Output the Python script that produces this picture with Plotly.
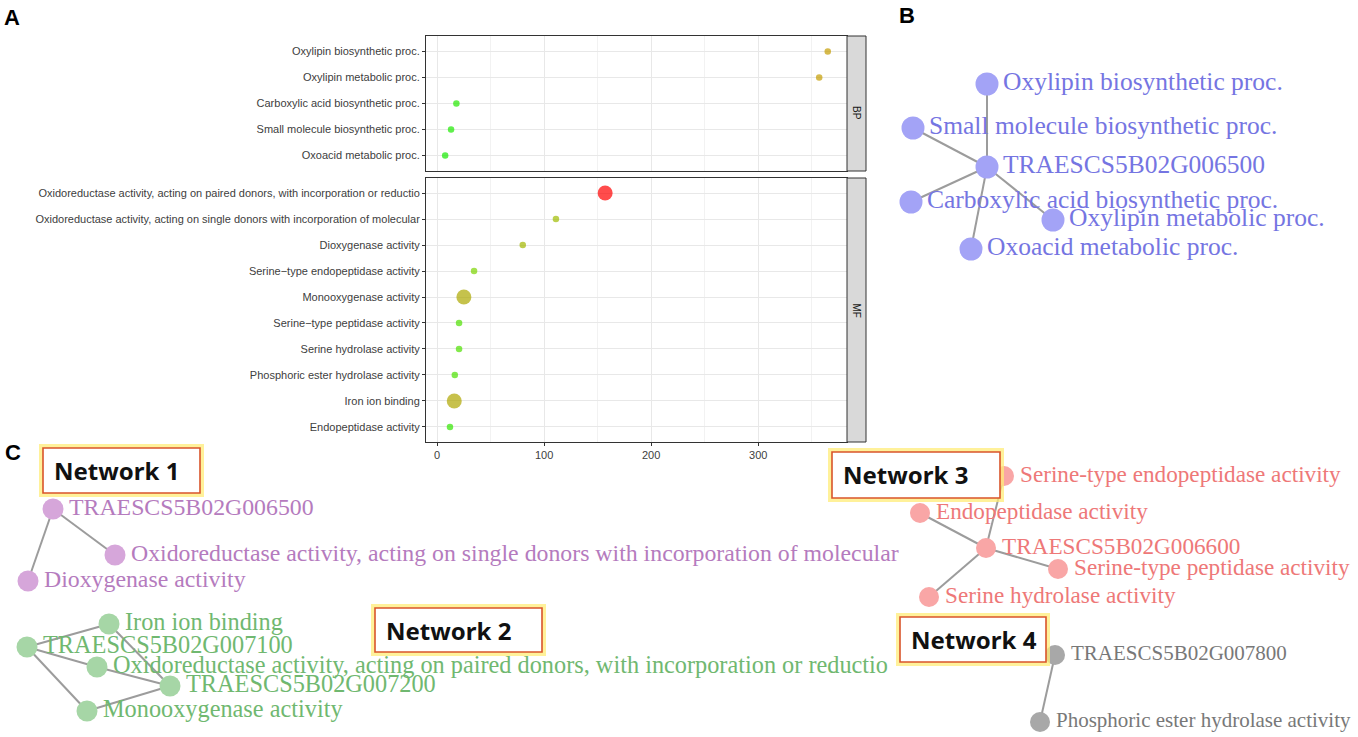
import plotly.graph_objects as go

W, H = 1358, 737

# ---------------- Panel A data ----------------
bp_terms = ["Oxylipin biosynthetic proc.", "Oxylipin metabolic proc.",
            "Carboxylic acid biosynthetic proc.", "Small molecule biosynthetic proc.",
            "Oxoacid metabolic proc."]
bp_values = [365, 357, 18, 13, 7.5]
bp_counts = [1, 1, 1, 1, 1]
bp_scores = [0.68, 0.68, 0.05, 0.04, 0.03]

mf_terms = ["Oxidoreductase activity, acting on paired donors, with incorporation or reductio",
            "Oxidoreductase activity, acting on single donors with incorporation of molecular",
            "Dioxygenase activity", "Serine\u2212type endopeptidase activity",
            "Monooxygenase activity", "Serine\u2212type peptidase activity",
            "Serine hydrolase activity", "Phosphoric ester hydrolase activity",
            "Iron ion binding", "Endopeptidase activity"]
mf_values = [157, 111, 80, 34.5, 25, 20.5, 20.5, 16.5, 16, 12]
mf_counts = [2, 1, 1, 1, 2, 1, 1, 1, 2, 1]
mf_scores = [1.0, 0.42, 0.45, 0.25, 0.55, 0.12, 0.12, 0.11, 0.56, 0.07]

x_ticks = [0, 100, 200, 300]

# ---------------- Network data ----------------
netB_labels = ["Oxylipin biosynthetic proc.", "Small molecule biosynthetic proc.",
               "TRAESCS5B02G006500", "Carboxylic acid biosynthetic proc.",
               "Oxylipin metabolic proc.", "Oxoacid metabolic proc."]
netB_x = [987, 913, 987, 911, 1053, 971]
netB_y = [84, 128, 167, 202, 220, 249]
netB_edges = [(2, 0), (2, 1), (2, 3), (2, 4), (2, 5)]

net1_labels = ["TRAESCS5B02G006500",
               "Oxidoreductase activity, acting on single donors with incorporation of molecular",
               "Dioxygenase activity"]
net1_x = [53, 115, 28]
net1_y = [509, 555, 581]
net1_edges = [(0, 1), (0, 2)]

net2_labels = ["Iron ion binding", "TRAESCS5B02G007100",
               "Oxidoreductase activity, acting on paired donors, with incorporation or reductio",
               "TRAESCS5B02G007200", "Monooxygenase activity"]
net2_x = [109, 27, 97, 170, 87]
net2_y = [624, 647, 667, 686, 711]
net2_edges = [(1, 0), (1, 2), (1, 4), (3, 0), (3, 2), (3, 4)]

net3_labels = ["Serine-type endopeptidase activity", "Endopeptidase activity",
               "TRAESCS5B02G006600", "Serine-type peptidase activity",
               "Serine hydrolase activity"]
net3_x = [1004, 920, 986, 1058, 929]
net3_y = [476, 513, 548, 569, 597]
net3_edges = [(2, 0), (2, 1), (2, 3), (2, 4)]

net4_labels = ["TRAESCS5B02G007800", "Phosphoric ester hydrolase activity"]
net4_x = [1055, 1040]
net4_y = [655, 722]
net4_edges = [(0, 1)]

network_titles = ["Network 1", "Network 2", "Network 3", "Network 4"]

# ---------------- styles ----------------
SIZE_MAP = {1: 6.5, 2: 15}
COLORSCALE = [[0, '#00EE00'], [0.1, '#48E200'], [0.25, '#7CD400'], [0.42, '#A0BC00'],
              [0.55, '#ADA800'], [0.68, '#C49C00'], [0.85, '#E46400'], [1, '#FF0000']]


def px(x):
    return x / W


def py(y):
    return 1 - y / H


fig = go.Figure()

# dot plot traces
fig.add_trace(go.Scatter(
    x=bp_values, y=bp_terms, mode='markers', xaxis='x', yaxis='y',
    marker=dict(size=[SIZE_MAP[c] for c in bp_counts], color=bp_scores,
                colorscale=COLORSCALE, cmin=0, cmax=1, line=dict(width=0)),
    showlegend=False, hoverinfo='skip'))
fig.add_trace(go.Scatter(
    x=mf_values, y=mf_terms, mode='markers', xaxis='x2', yaxis='y2',
    marker=dict(size=[SIZE_MAP[c] for c in mf_counts], color=mf_scores,
                colorscale=COLORSCALE, cmin=0, cmax=1, line=dict(width=0)),
    showlegend=False, hoverinfo='skip'))

# networks
networks = [
    dict(labels=netB_labels, x=netB_x, y=netB_y, edges=netB_edges,
         node='#A3A3F6', text='#7575E2', size=23, font=25.5),
    dict(labels=net1_labels, x=net1_x, y=net1_y, edges=net1_edges,
         node='#D6A6DA', text='#B57BBE', size=21, font=23.8),
    dict(labels=net2_labels, x=net2_x, y=net2_y, edges=net2_edges,
         node='#A6D6A6', text='#70B870', size=21, font=24.3),
    dict(labels=net3_labels, x=net3_x, y=net3_y, edges=net3_edges,
         node='#F9A6A6', text='#EE7878', size=20, font=23.2),
    dict(labels=net4_labels, x=net4_x, y=net4_y, edges=net4_edges,
         node='#A8A8A8', text='#787878', size=20, font=21),
]
LABEL_DX = 16
for n in networks:
    ex, ey = [], []
    for a, b in n['edges']:
        ex += [n['x'][a], n['x'][b], None]
        ey += [n['y'][a], n['y'][b], None]
    fig.add_trace(go.Scatter(x=ex, y=ey, mode='lines', xaxis='x3', yaxis='y3',
                             line=dict(color='#9C9C9C', width=2),
                             showlegend=False, hoverinfo='skip'))
for n in networks:
    fig.add_trace(go.Scatter(x=n['x'], y=n['y'], mode='markers', xaxis='x3', yaxis='y3',
                             marker=dict(size=n['size'], color=n['node'], line=dict(width=0)),
                             showlegend=False, hoverinfo='skip'))
for n in networks:
    fig.add_trace(go.Scatter(x=[v + LABEL_DX for v in n['x']], y=n['y'], mode='text',
                             text=n['labels'], textposition='middle right',
                             textfont=dict(family='Liberation Serif', size=n['font'], color=n['text']),
                             xaxis='x3', yaxis='y3', showlegend=False, hoverinfo='skip',
                             cliponaxis=False))

# ---------------- layout ----------------
XR = [-10.4, 383.0]
bp_dom = [py(171), py(36)]
mf_dom = [py(442), py(178)]
xdom = [px(426), px(847)]

axis_common = dict(showline=True, mirror=True, linecolor='#333333', linewidth=1,
                   zeroline=False, automargin=False)
xgrid = dict(showgrid=True, gridcolor='#E8E8E8', gridwidth=1.1, tickvals=x_ticks,
             minor=dict(tickvals=[50, 150, 250, 350], showgrid=True, gridcolor='#F2F2F2', gridwidth=0.7))
tickfont = dict(family='Liberation Sans', size=11, color='#404040')

fig.update_layout(
    width=W, height=H, margin=dict(l=0, r=0, t=0, b=0),
    paper_bgcolor='white', plot_bgcolor='rgba(0,0,0,0)', template='none',
    xaxis=dict(domain=xdom, range=XR, anchor='y', showticklabels=False, ticks='',
               **xgrid, **axis_common),
    yaxis=dict(domain=bp_dom, range=[-0.6, 4.6], anchor='x', type='category',
               categoryorder='array', categoryarray=bp_terms[::-1],
               showgrid=True, gridcolor='#E8E8E8', gridwidth=1.1,
               ticks='outside', ticklen=3, tickcolor='#333333', tickwidth=1,
               tickfont=tickfont, **axis_common),
    xaxis2=dict(domain=xdom, range=XR, anchor='y2', ticks='outside', ticklen=3,
                tickcolor='#333333', tickwidth=1, tickfont=tickfont,
                ticktext=[str(t) for t in x_ticks], **xgrid, **axis_common),
    yaxis2=dict(domain=mf_dom, range=[-0.58, 9.58], anchor='x2', type='category',
                categoryorder='array', categoryarray=mf_terms[::-1],
                showgrid=True, gridcolor='#E8E8E8', gridwidth=1.1,
                ticks='outside', ticklen=3, tickcolor='#333333', tickwidth=1,
                tickfont=tickfont, **axis_common),
    xaxis3=dict(domain=[0, 1], range=[0, W], anchor='y3', visible=False, fixedrange=True),
    yaxis3=dict(domain=[0, 1], range=[H, 0], anchor='x3', visible=False, fixedrange=True),
)

shapes = []
annotations = []
# strips
for (y0, y1, lab) in [(36, 171, 'BP'), (178, 442, 'MF')]:
    shapes.append(dict(type='rect', xref='paper', yref='paper', x0=px(847), x1=px(866),
                       y0=py(y1), y1=py(y0), fillcolor='#D9D9D9',
                       line=dict(color='#333333', width=1), layer='above'))
    annotations.append(dict(xref='paper', yref='paper', x=px(856.5), y=py((y0 + y1) / 2),
                            text=lab, showarrow=False, textangle=90,
                            font=dict(family='Liberation Sans', size=10, color='#1A1A1A')))

# network title boxes
boxes = [(43, 448, 200, 493), (375, 608, 542, 652), (832, 452, 1000, 498), (900, 617, 1046, 662)]
for (x0, y0, x1, y1), title in zip(boxes, network_titles):
    shapes.append(dict(type='rect', xref='paper', yref='paper', x0=px(x0 - 2), x1=px(x1 + 2),
                       y0=py(y1 + 2), y1=py(y0 - 2), fillcolor='rgba(0,0,0,0)',
                       line=dict(color='rgba(255,236,120,0.75)', width=4), layer='above'))
    shapes.append(dict(type='rect', xref='paper', yref='paper', x0=px(x0), x1=px(x1),
                       y0=py(y1), y1=py(y0), fillcolor='white',
                       line=dict(color='#D9542B', width=1.6), layer='above'))
    annotations.append(dict(xref='paper', yref='paper', x=px(x0 + 9), y=py((y0 + y1) / 2),
                            xanchor='left', yanchor='middle', showarrow=False,
                            text='<b>' + title + '</b>',
                            font=dict(family='Noto Sans', size=24, color='#111111')))

# panel letters
for lab, x, y in [('A', 2, 17), ('B', 897, 15), ('C', 3, 452)]:
    annotations.append(dict(xref='paper', yref='paper', x=px(x), y=py(y), xanchor='left',
                            yanchor='middle', showarrow=False, text='<b>' + lab + '</b>',
                            font=dict(family='Liberation Sans', size=22, color='black')))

fig.update_layout(shapes=shapes, annotations=annotations)
fig.write_html("out.html", config={'displayModeBar': False},
               post_script="document.body.style.margin='0px';document.body.style.padding='0px';")
